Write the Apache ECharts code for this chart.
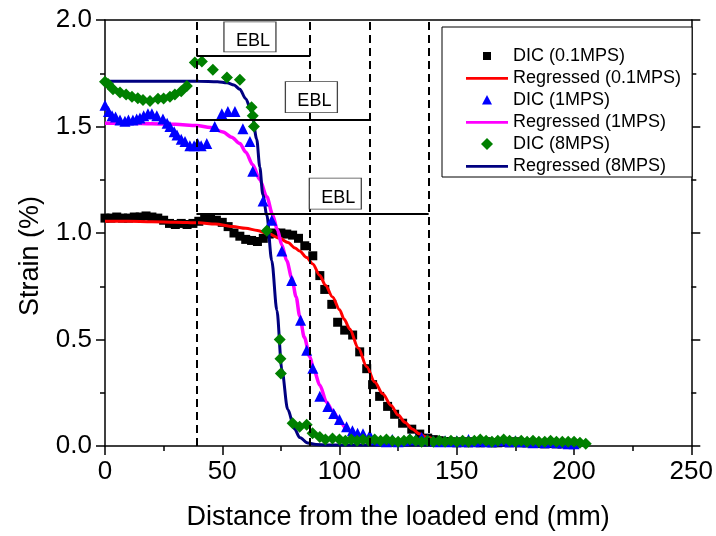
<!DOCTYPE html>
<html><head><meta charset="utf-8">
<script src="https://cdn.jsdelivr.net/npm/echarts@6/dist/echarts.min.js"></script>
<style>html,body{margin:0;padding:0;background:#fff}#c{width:716px;height:536px}</style>
</head><body><div id="c"></div>
<script>
// ---------- data ----------
const xTickLabels = ['0','50','100','150','200','250'];
const yTickLabels = ['0.0','0.5','1.0','1.5','2.0'];
const seriesNames = ['DIC (0.1MPS)','Regressed (0.1MPS)','DIC (1MPS)','Regressed (1MPS)','DIC (8MPS)','Regressed (8MPS)'];

const dic01 = [[0,1.07],[2.5,1.07],[5,1.075],[7.5,1.07],[10,1.07],[12.5,1.075],[15,1.075],[17.5,1.08],[20,1.075],[22.5,1.07],[25,1.06],[27.5,1.045],[30,1.04],[32.5,1.045],[35,1.04],[37.5,1.045],[40,1.055],[42.5,1.065],[45,1.065],[47.5,1.06],[50,1.05],[52.5,1.03],[55,1.0],[57.5,0.985],[60,0.97],[62.5,0.965],[65,0.96],[67.5,0.975],[70,0.995],[72.5,1.0],[75,1.0],[77.5,0.995],[80,0.99],[82.5,0.975],[85.2,0.94],[88.6,0.893],[91.6,0.80],[93.7,0.735],[96.7,0.665],[99.2,0.581],[102.2,0.544],[105.6,0.521],[108.6,0.442],[111.6,0.363],[114.1,0.288],[117.1,0.233],[120.5,0.186],[123.5,0.149],[126.9,0.107],[130.8,0.079],[134.2,0.056],[137.6,0.037],[140,0.03],[142.5,0.025],[145,0.02],[147.5,0.02],[150,0.015],[152.5,0.02],[155,0.015],[157.5,0.02],[160,0.015],[162.5,0.02],[165,0.015],[167.5,0.015],[170,0.02],[172.5,0.015],[175,0.02],[177.5,0.015],[180,0.015],[182.5,0.012],[185,0.012],[187.5,0.01],[190,0.012],[192.5,0.01],[195,0.01],[197.5,0.01],[200,0.01]];

const reg01 = [[0,1.055],[10,1.055],[20,1.053],[30,1.051],[40,1.048],[47,1.042],[54.5,1.03],[60,1.022],[65,1.012],[70,0.995],[74.5,0.975],[78,0.955],[81,0.93],[83,0.915],[86,0.885],[88.6,0.855],[91.6,0.8],[94,0.755],[97,0.7],[100,0.64],[102,0.595],[104.3,0.55],[108,0.46],[111.6,0.372],[115,0.3],[118.4,0.245],[122,0.19],[125,0.145],[128,0.11],[131,0.08],[134,0.057],[137,0.042],[140,0.032]];

const dic1 = [[0,1.6],[1.5,1.57],[3,1.55],[4.5,1.545],[6.4,1.53],[8.5,1.525],[10,1.53],[11.9,1.53],[13.5,1.535],[14.9,1.54],[16.5,1.55],[18.3,1.56],[20,1.56],[22.1,1.55],[24.7,1.535],[26.5,1.515],[27.7,1.5],[29.5,1.475],[30.7,1.46],[32.5,1.44],[34.1,1.43],[36.2,1.41],[38,1.41],[39.5,1.42],[41,1.41],[43.4,1.42],[46.8,1.5],[49.8,1.56],[52.4,1.57],[55.4,1.57],[58.8,1.49],[61.8,1.43],[63,1.29],[67.4,1.15],[71.1,1.06],[75.4,0.915],[79.6,0.777],[83.4,0.59],[86,0.45],[88.6,0.365],[91.6,0.233],[95,0.186],[97.5,0.153],[100,0.125],[103,0.09],[105.5,0.072],[107.7,0.06],[110,0.058],[112.9,0.05],[115,0.03],[117.5,0.025],[120,0.02],[122.5,0.03],[125,0.02],[127.5,0.025],[130,0.035],[132.5,0.03],[135,0.04],[137.5,0.03],[140,0.025],[142.5,0.02],[145,0.025],[147.5,0.02],[150,0.025],[152.5,0.02],[155,0.03],[157.5,0.02],[160,0.025],[162.5,0.02],[165,0.02],[167.5,0.025],[170,0.03],[172.5,0.02],[175,0.025],[177.5,0.02],[180,0.02],[182.5,0.015],[185,0.02],[187.5,0.015],[190,0.02],[192.5,0.015],[195,0.015],[197.5,0.01],[200,0.01]];

const reg1 = [[0,1.515],[10,1.515],[20,1.513],[30,1.51],[39,1.505],[45,1.495],[50.3,1.474],[54,1.45],[57.5,1.42],[60,1.38],[63,1.32],[66,1.25],[69,1.17],[71.5,1.085],[73.5,1.015],[75.4,0.944],[77.5,0.87],[79.6,0.79],[81.5,0.7],[83,0.61],[85,0.51],[87.3,0.42],[89,0.36],[91.6,0.285],[94.5,0.205],[97,0.165],[100,0.118],[103,0.08],[105.6,0.06],[109,0.045],[113,0.033]];

const dic8 = [[0,1.71],[1.3,1.70],[3.4,1.675],[6.4,1.66],[9,1.65],[11.5,1.64],[14,1.633],[16.2,1.625],[19.2,1.62],[22.6,1.63],[25,1.632],[27.7,1.64],[29.8,1.65],[32.5,1.665],[34.9,1.69],[38.3,1.80],[41.3,1.805],[46,1.767],[52,1.73],[57.5,1.72],[62.5,1.59],[63,1.55],[63.5,1.50],[69,1.01],[74.5,0.50],[74.8,0.41],[75,0.34],[80,0.107],[83,0.09],[86,0.10],[88.5,0.06],[91.6,0.042],[94,0.03],[97,0.035],[100,0.03],[102.5,0.025],[105,0.03],[107.5,0.025],[110,0.03],[112.5,0.025],[115,0.03],[117.5,0.025],[120,0.03],[122.5,0.025],[125,0.02],[127.5,0.025],[130,0.03],[132.5,0.025],[135,0.02],[137.5,0.025],[140,0.02],[142.5,0.025],[145,0.02],[147.5,0.025],[150,0.02],[152.5,0.025],[155,0.02],[157.5,0.025],[160,0.03],[162.5,0.025],[165,0.02],[167.5,0.025],[170,0.03],[172.5,0.025],[175,0.02],[177.5,0.025],[180,0.02],[182.5,0.025],[185,0.02],[187.5,0.02],[190,0.025],[192.5,0.02],[195,0.02],[197.5,0.02],[200,0.02],[202.5,0.015],[205,0.01]];

const reg8 = [[0,1.713],[10,1.713],[20,1.713],[30,1.713],[40,1.712],[48,1.71],[52,1.705],[55,1.695],[57.5,1.675],[60,1.63],[62.6,1.567],[64.7,1.44],[66,1.31],[67.3,1.18],[69,1.084],[71.1,0.87],[73.3,0.637],[75.4,0.36],[77.9,0.172],[80.9,0.079],[83,0.04],[86.5,0.014],[90,0.007],[95,0.005],[120,0.005],[150,0.005],[180,0.005],[203,0.005]];

// effective bond length markers (start, end, level)
const eblStart = 39;
const eblEnds = [87.5, 113, 138];
const eblLevels = [1.833, 1.532, 1.09];
const eblLabel = 'EBL';

// ---------- chart ----------
const FONT = "'Liberation Sans', Arial, sans-serif";
const chart = echarts.init(document.getElementById('c'), null, {renderer: 'canvas'});
const axisLineStyle = {color: '#000', width: 1.5};

// legend icons (padded so the glyph keeps the reference size inside the icon box)
const lineIcon = 'path://M0,0L0,0M0,10L0,10M0,4L42,4L42,6.8L0,6.8Z';
const squareIcon = 'path://M0,0L0,0M12,12L12,12M2,2L10,2L10,10L2,10Z';
const triIcon = 'path://M0,0L0,0M12,12L12,12M6,1L11,10.5L1,10.5Z';
const diaIcon = 'path://M6,0L12,6L6,12L0,6Z';

const markLineData = [{xAxis: eblStart, lineStyle: {type: [8, 5], width: 2}}]
  .concat(eblEnds.map(e => ({xAxis: e, lineStyle: {type: [8, 5], width: 2}})))
  .concat(eblEnds.map((e, i) => [{coord: [eblStart, eblLevels[i]]}, {coord: [e, eblLevels[i]]}]));

const option = {
  animation: false,
  backgroundColor: '#fff',
  textStyle: {fontFamily: FONT},
  grid: {left: 105, right: 24, top: 20, bottom: 86, containLabel: false},
  xAxis: [{
    type: 'value', min: 0, max: 250, interval: 50, position: 'bottom',
    name: 'Distance from the loaded end (mm)', nameLocation: 'middle', nameGap: 58,
    nameTextStyle: {fontSize: 27, color: '#000', fontFamily: FONT},
    axisLine: {show: true, onZero: false, lineStyle: axisLineStyle},
    axisTick: {show: true, inside: false, length: 9, lineStyle: axisLineStyle},
    minorTick: {show: true, splitNumber: 2, length: 5, lineStyle: axisLineStyle},
    axisLabel: {fontSize: 26, color: '#000', margin: 13, fontFamily: FONT,
      formatter: v => xTickLabels[Math.round(v / 50)]},
    splitLine: {show: false}, minorSplitLine: {show: false}
  }, {
    type: 'value', min: 0, max: 250, position: 'top',
    axisLine: {show: true, onZero: false, lineStyle: axisLineStyle},
    axisTick: {show: false}, axisLabel: {show: false}, splitLine: {show: false}
  }],
  yAxis: [{
    type: 'value', min: 0, max: 2, interval: 0.5, position: 'left',
    name: 'Strain (%)', nameLocation: 'middle', nameGap: 61,
    nameTextStyle: {fontSize: 27, color: '#000', fontFamily: FONT, padding: [0, 46, 0, 0]},
    axisLine: {show: true, onZero: false, lineStyle: axisLineStyle},
    axisTick: {show: true, inside: false, length: 9, lineStyle: axisLineStyle},
    minorTick: {show: true, splitNumber: 2, length: 5, lineStyle: axisLineStyle},
    axisLabel: {fontSize: 26, color: '#000', margin: 13, fontFamily: FONT,
      formatter: v => yTickLabels[Math.round(v / 0.5)]},
    splitLine: {show: false}, minorSplitLine: {show: false}
  }, {
    type: 'value', min: 0, max: 2, interval: 0.5, position: 'right',
    axisLine: {show: true, onZero: false, lineStyle: axisLineStyle},
    axisTick: {show: true, inside: false, length: 9, lineStyle: axisLineStyle},
    minorTick: {show: true, splitNumber: 2, length: 5, lineStyle: axisLineStyle},
    axisLabel: {show: false}, splitLine: {show: false}
  }],
  legend: {
    show: true, orient: 'vertical', left: 442, top: 27,
    data: [
      {name: seriesNames[0], icon: squareIcon, itemStyle: {color: '#000'}},
      {name: seriesNames[1], icon: lineIcon, itemStyle: {color: '#ff0000'}},
      {name: seriesNames[2], icon: triIcon, itemStyle: {color: '#0000ff'}},
      {name: seriesNames[3], icon: lineIcon, itemStyle: {color: '#ff00ff'}},
      {name: seriesNames[4], icon: diaIcon, itemStyle: {color: '#008000'}},
      {name: seriesNames[5], icon: lineIcon, itemStyle: {color: '#000080'}}
    ],
    itemWidth: 42, itemHeight: 12, itemGap: 4,
    padding: [20, 11, 2, 24],
    borderColor: '#000', borderWidth: 1, backgroundColor: '#fff', borderRadius: 0,
    textStyle: {fontSize: 18, color: '#000', fontFamily: FONT},
    selectedMode: false
  },
  series: [
    {name: seriesNames[0], type: 'scatter', data: dic01, symbol: 'rect', symbolSize: 9,
     itemStyle: {color: '#000', opacity: 1}, z: 2},
    {name: seriesNames[1], type: 'line', data: reg01, symbol: 'none', smooth: 0.3, smoothMonotone: 'x',
     lineStyle: {color: '#ff0000', width: 3}, itemStyle: {color: '#ff0000'}, z: 3},
    {name: seriesNames[2], type: 'scatter', data: dic1, symbol: 'triangle', symbolSize: 11,
     itemStyle: {color: '#0000ff', opacity: 1}, z: 3},
    {name: seriesNames[3], type: 'line', data: reg1, symbol: 'none', smooth: 0.3, smoothMonotone: 'x',
     lineStyle: {color: '#ff00ff', width: 3.5}, itemStyle: {color: '#ff00ff'}, z: 3},
    {name: seriesNames[4], type: 'scatter', data: dic8, symbol: 'diamond', symbolSize: 12,
     itemStyle: {color: '#008000', opacity: 1}, z: 3},
    {name: seriesNames[5], type: 'line', data: reg8, symbol: 'none', smooth: 0.3, smoothMonotone: 'x',
     lineStyle: {color: '#000080', width: 3}, itemStyle: {color: '#000080'}, z: 3},
    {name: 'eblLines', type: 'line', data: [], silent: true,
     markLine: {silent: true, symbol: ['none', 'none'], z: 4, animation: false,
       label: {show: false}, emphasis: {disabled: true},
       lineStyle: {color: '#000', width: 2, type: 'solid'},
       data: markLineData}},
    {name: 'eblBoxes', type: 'line', data: [], silent: true,
     markPoint: {silent: true, symbol: 'rect', z: 6, animation: false,
       itemStyle: {color: '#fff', borderColor: '#444', borderWidth: 1},
       label: {show: true, position: 'inside', formatter: eblLabel, color: '#000', fontSize: 18,
         fontFamily: FONT, offset: [3, 4]},
       emphasis: {disabled: true},
       data: [
         {coord: [61.8, 1.921], symbolSize: [52, 30]},
         {coord: [88.0, 1.638], symbolSize: [52, 31]},
         {coord: [98.2, 1.185], symbolSize: [52, 31]}
       ]}}
  ]
};
chart.setOption(option);
</script>
</body></html>
